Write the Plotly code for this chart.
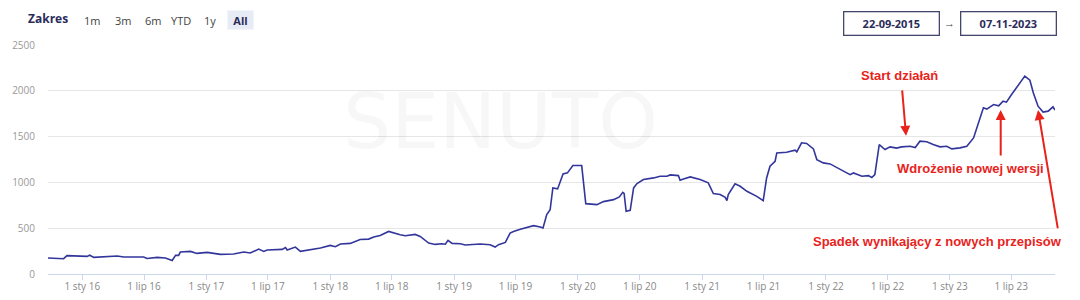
import plotly.graph_objects as go

# ---------------- data ----------------
dates = [
    "2015-09-22", "2015-11-07", "2015-11-17", "2016-01-15", "2016-01-23", "2016-02-04",
    "2016-04-13", "2016-05-02", "2016-06-30", "2016-07-10", "2016-08-09", "2016-09-02",
    "2016-09-22", "2016-10-02", "2016-10-11", "2016-10-16", "2016-11-15", "2016-12-04",
    "2017-01-03", "2017-02-11", "2017-03-22", "2017-04-21", "2017-05-10", "2017-06-04",
    "2017-06-19", "2017-06-29", "2017-08-12", "2017-08-22", "2017-08-27", "2017-09-20",
    "2017-10-05", "2017-10-24", "2017-12-03", "2018-01-01", "2018-01-16", "2018-01-31",
    "2018-03-01", "2018-03-30", "2018-04-24", "2018-05-09", "2018-05-28", "2018-06-22",
    "2018-07-07", "2018-07-26", "2018-08-10", "2018-09-08", "2018-09-23", "2018-10-18",
    "2018-11-06", "2018-11-26", "2018-12-06", "2018-12-14", "2018-12-26", "2019-01-19",
    "2019-02-03", "2019-03-19", "2019-04-17", "2019-05-02", "2019-05-12", "2019-06-01",
    "2019-06-15", "2019-06-25", "2019-07-15", "2019-08-23", "2019-09-12", "2019-09-20",
    "2019-10-01", "2019-10-11", "2019-10-19", "2019-11-02", "2019-11-18", "2019-12-01",
    "2019-12-17", "2020-01-12", "2020-01-24", "2020-02-26", "2020-03-16", "2020-04-15",
    "2020-05-02", "2020-05-12", "2020-05-16", "2020-05-22", "2020-06-03", "2020-06-13",
    "2020-06-23", "2020-07-12", "2020-08-11", "2020-08-30", "2020-09-19", "2020-09-29",
    "2020-10-23", "2020-10-28", "2020-11-07", "2020-11-27", "2020-12-26", "2021-01-19",
    "2021-02-03", "2021-02-23", "2021-03-10", "2021-03-15", "2021-03-19", "2021-04-08",
    "2021-04-23", "2021-05-13", "2021-06-11", "2021-06-30", "2021-07-10", "2021-07-20",
    "2021-08-04", "2021-08-09", "2021-09-07", "2021-10-02", "2021-10-07", "2021-10-21",
    "2021-11-05", "2021-11-25", "2021-12-05", "2021-12-24", "2022-01-13", "2022-02-06",
    "2022-02-26", "2022-03-13", "2022-03-23", "2022-04-17", "2022-05-06", "2022-05-16",
    "2022-05-25", "2022-06-07", "2022-06-24", "2022-07-09", "2022-07-28", "2022-08-12",
    "2022-09-06", "2022-09-21", "2022-10-05", "2022-10-25", "2022-11-13", "2022-12-03",
    "2022-12-23", "2023-01-07", "2023-01-31", "2023-02-20", "2023-03-12", "2023-03-27",
    "2023-04-10", "2023-04-20", "2023-05-10", "2023-05-25", "2023-06-07", "2023-06-17",
    "2023-07-02", "2023-08-10", "2023-08-25", "2023-09-04", "2023-09-18", "2023-10-03",
    "2023-10-18", "2023-11-01", "2023-11-07",
]
values = [
    174, 167, 200, 192, 205, 181,
    196, 185, 185, 170, 181, 174,
    148, 205, 203, 240, 247, 225,
    236, 214, 218, 240, 229, 272,
    247, 262, 269, 290, 262, 294,
    247, 258, 283, 312, 298, 327,
    334, 377, 381, 403, 421, 465,
    447, 429, 418, 432, 410, 338,
    323, 330, 325, 367, 334, 330,
    316, 327, 320, 294, 320, 345,
    447, 465, 488, 528, 514, 503,
    648, 703, 940, 929, 1093, 1104,
    1184, 1184, 768, 757, 790, 812,
    842, 892, 880, 684, 695, 940,
    987, 1031, 1049, 1067, 1067, 1082,
    1074, 1023, 1038, 1060, 1031, 995,
    878, 867, 837, 801, 867, 984,
    958, 903, 848, 801, 1049, 1176,
    1231, 1322, 1329, 1351, 1333, 1432,
    1425, 1366, 1249, 1213, 1202, 1158,
    1121, 1085, 1103, 1067, 1074, 1053,
    1085, 1413, 1359, 1388, 1374, 1388,
    1395, 1380, 1450, 1443, 1413, 1388,
    1395, 1366, 1377, 1395, 1486, 1650,
    1814, 1800, 1850, 1836, 1887, 1876,
    1960, 2160, 2116, 1978, 1832, 1767,
    1778, 1825, 1789,
]

x_tick_dates = ["2016-01-01", "2016-07-01", "2017-01-01", "2017-07-01", "2018-01-01",
                "2018-07-01", "2019-01-01", "2019-07-01", "2020-01-01", "2020-07-01",
                "2021-01-01", "2021-07-01", "2022-01-01", "2022-07-01", "2023-01-01",
                "2023-07-01"]
x_tick_labels = ["1 sty 16", "1 lip 16", "1 sty 17", "1 lip 17", "1 sty 18", "1 lip 18",
                 "1 sty 19", "1 lip 19", "1 sty 20", "1 lip 20", "1 sty 21", "1 lip 21",
                 "1 sty 22", "1 lip 22", "1 sty 23", "1 lip 23"]
y_ticks = [0, 500, 1000, 1500, 2000, 2500]

range_buttons = ["1m", "3m", "6m", "YTD", "1y", "All"]
date_from = "22-09-2015"
date_to = "07-11-2023"

note_texts = ["Start działań", "Wdrożenie nowej wersji", "Spadek wynikający z nowych przepisów"]
note_dates = ["2022-08-25", "2023-05-31", "2023-09-18"]
note_values = [1508, 1791, 1791]

# ---------------- layout helpers ----------------
W, H = 1080, 300
ML, MR, MT, MB = 48, 25, 45, 26
PW, PH = W - ML - MR, H - MT - MB


def px(x):
    return (x - ML) / PW


def py(y):
    return (H - MB - y) / PH


RED = "#e8231c"
NAVY = "#2a2c5a"
LINE = "#32369a"
UIFONT = "Open Sans"

fig = go.Figure()
fig.add_trace(go.Scatter(
    x=dates, y=values, mode="lines",
    line=dict(color=LINE, width=1.6),
    hoverinfo="skip", showlegend=False,
))

ann = []


def label(x, y, text, **kw):
    d = dict(xref="paper", yref="paper", x=px(x), y=py(y), text=text,
             showarrow=False, xanchor="center", yanchor="middle")
    d.update(kw)
    ann.append(d)


# watermark
label(500, 121, "SENUTO", font=dict(family="DejaVu Sans", size=76, color="rgba(0,0,0,0.03)"))

# range selector
label(48, 19, "<b>Zakres</b>", font=dict(family=UIFONT, size=12, color=NAVY))
btn_x = [92, 123, 153, 181, 210, 240]
for t, bx in zip(range_buttons, btn_x):
    if t == "All":
        label(bx, 20, "<b>All</b>", bgcolor="#e6ebf5", width=25, height=18, borderpad=0,
              font=dict(family=UIFONT, size=11, color=NAVY))
    else:
        label(bx, 20, t, font=dict(family=UIFONT, size=11, color="#444444"))

# date boxes
for t, bx in [(date_from, 891), (date_to, 1008)]:
    label(bx, 23, "<b>" + t + "</b>", width=94, height=22, borderpad=0, borderwidth=1.3,
          bordercolor="#45466b", bgcolor="white",
          font=dict(family=UIFONT, size=11, color=NAVY))
label(949, 22, "→", font=dict(family=UIFONT, size=11, color="#444444"))

# red notes (text)
text_pos = [(899, 75), (970, 168), (937, 241)]
for t, (tx, ty) in zip(note_texts, text_pos):
    label(tx, ty, "<b>" + t + "</b>", font=dict(family="Liberation Sans", size=13, color=RED))
# red arrows
arrow_offsets = [(-4, -47), (0, 47), (20, 120)]
for d, v, (ox, oy) in zip(note_dates, note_values, arrow_offsets):
    ann.append(dict(x=d, y=v, xref="x", yref="y", ax=ox, ay=oy, text="",
                    showarrow=True, arrowhead=2, arrowsize=1, arrowwidth=2,
                    arrowcolor=RED, standoff=0, startstandoff=0))

fig.update_layout(
    width=W, height=H,
    margin=dict(l=ML, r=MR, t=MT, b=MB, pad=0, autoexpand=False),
    paper_bgcolor="white", plot_bgcolor="white",
    annotations=ann,
    hovermode=False,
    xaxis=dict(
        type="date", range=["2015-09-22", "2023-11-07"],
        tickmode="array", tickvals=x_tick_dates, ticktext=x_tick_labels,
        showgrid=False, showline=True, linecolor="#ccd6eb", linewidth=1,
        ticks="outside", ticklen=5, tickcolor="#ccd6eb", tickwidth=1,
        ticklabelstandoff=-2,
        tickfont=dict(family=UIFONT, size=10, color="#888888"),
        zeroline=False, fixedrange=True, automargin=False,
    ),
    yaxis=dict(
        range=[0, 2500], tickmode="array", tickvals=y_ticks,
        ticktext=[str(v) for v in y_ticks],
        showgrid=True, gridcolor="#e6e6e6", gridwidth=1,
        showline=False, zeroline=False, ticks="",
        ticklabelstandoff=12,
        tickfont=dict(family=UIFONT, size=10, color="#999999"),
        fixedrange=True, automargin=False,
    ),
)

fig.write_html("out.html", config={"displayModeBar": False})
